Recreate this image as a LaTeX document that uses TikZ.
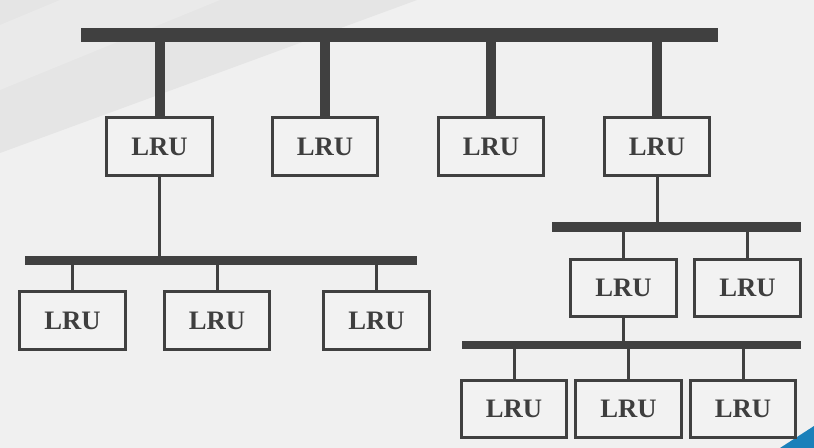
\documentclass[tikz,border=0pt]{standalone}
\usepackage{fontspec}
\setmainfont{Liberation Serif}
\usepackage{tikz}

\tikzset{
  lru/.style={draw={rgb, 255:red, 64; green, 64; blue, 64}, line width=2.25pt,
    fill={rgb, 255:red, 242; green, 242; blue, 242}, minimum width=79pt, minimum height=43pt,
    inner sep=0.75pt, font=\fontsize{20}{24}\selectfont\bfseries,
    text={rgb, 255:red, 62; green, 62; blue, 62}},
  bus/.style={draw={rgb, 255:red, 64; green, 64; blue, 64}, line width=#1},
  bus/.default=7pt,
  drop/.style={draw={rgb, 255:red, 64; green, 64; blue, 64}, line width=#1},
  drop/.default=2.25pt
}

\begin{document}
\begin{tikzpicture}[x=0.75pt,y=0.75pt,yscale=-1,xscale=1]
\useasboundingbox (0,0) rectangle (814,448);

%Background
\fill [color={rgb, 255:red, 240; green, 240; blue, 240 }] (0,0) rectangle (814,448);
\fill [color={rgb, 255:red, 229; green, 229; blue, 229 }] (0,0) -- (417,0) -- (0,153) -- cycle;
\fill [color={rgb, 255:red, 234; green, 234; blue, 234 }] (60,0) -- (220,0) -- (0,90) -- (0,25) -- cycle;
\fill [color={rgb, 255:red, 26; green, 128; blue, 186 }] (780,448) -- (814,426) -- (814,448) -- cycle;

%Bus lines
\coordinate (topbus-w) at (81,35);
\coordinate (topbus-e) at (718,35);
\coordinate (leftbus-w) at (25,261);
\coordinate (leftbus-e) at (417,261);
\coordinate (midbus-w) at (552,227);
\coordinate (midbus-e) at (801,227);
\coordinate (lowbus-w) at (462,345);
\coordinate (lowbus-e) at (801,345);

%Straight Lines
\draw [bus=10.5pt] (topbus-w) -- (topbus-e) ;
%Straight Lines
\draw [bus=6.75pt] (leftbus-w) -- (leftbus-e) ;
%Straight Lines
\draw [bus=7.5pt] (midbus-w) -- (midbus-e) ;
%Straight Lines
\draw [bus=6.5pt] (lowbus-w) -- (lowbus-e) ;

% Text Node
\draw (159.5,146.5) node [lru] (top1) {LRU};
% Text Node
\draw (325,146.5) node [lru] (top2) {LRU};
% Text Node
\draw (491,146.5) node [lru] (top3) {LRU};
% Text Node
\draw (657,146.5) node [lru] (top4) {LRU};
% Text Node
\draw (72.5,320.5) node [lru] (left1) {LRU};
% Text Node
\draw (217,320.5) node [lru] (left2) {LRU};
% Text Node
\draw (376.5,320.5) node [lru] (left3) {LRU};
% Text Node
\draw (623.5,288) node [lru] (mid1) {LRU};
% Text Node
\draw (747.5,288) node [lru] (mid2) {LRU};
% Text Node
\draw (514,409) node [lru] (low1) {LRU};
% Text Node
\draw (628.5,409) node [lru] (low2) {LRU};
% Text Node
\draw (743,409) node [lru] (low3) {LRU};

%Straight Lines
\draw [drop=7.5pt] (top1.north) -- (top1.north |- topbus-w) ;
\draw [drop=7.5pt] (top2.north) -- (top2.north |- topbus-w) ;
\draw [drop=7.5pt] (top3.north) -- (top3.north |- topbus-w) ;
\draw [drop=7.5pt] (top4.north) -- (top4.north |- topbus-w) ;
%Straight Lines
\draw [drop] (top1.south) -- (top1.south |- leftbus-w) ;
\draw [drop] (left1.north) -- (left1.north |- leftbus-w) ;
\draw [drop] (left2.north) -- (left2.north |- leftbus-w) ;
\draw [drop] (left3.north) -- (left3.north |- leftbus-w) ;
%Straight Lines
\draw [drop] (top4.south) -- (top4.south |- midbus-w) ;
\draw [drop] (mid1.north) -- (mid1.north |- midbus-w) ;
\draw [drop] (mid2.north) -- (mid2.north |- midbus-w) ;
%Straight Lines
\draw [drop] (mid1.south) -- (mid1.south |- lowbus-w) ;
\draw [drop] (low1.north) -- (low1.north |- lowbus-w) ;
\draw [drop] (low2.north) -- (low2.north |- lowbus-w) ;
\draw [drop] (low3.north) -- (low3.north |- lowbus-w) ;

\end{tikzpicture}
\end{document}
